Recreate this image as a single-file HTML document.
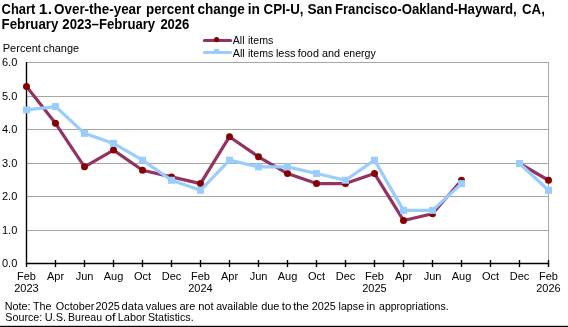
<!DOCTYPE html>
<html><head><meta charset="utf-8"><style>
html,body{margin:0;padding:0;background:#fff;width:568px;height:327px;overflow:hidden}
svg{display:block;font-family:"Liberation Sans",sans-serif;will-change:transform}
</style></head><body>
<svg width="568" height="327" viewBox="0 0 568 327">
<line x1="27" y1="230.5" x2="549" y2="230.5" stroke="#a6a6a6" stroke-width="1"/>
<line x1="27" y1="196.5" x2="549" y2="196.5" stroke="#a6a6a6" stroke-width="1"/>
<line x1="27" y1="163.5" x2="549" y2="163.5" stroke="#a6a6a6" stroke-width="1"/>
<line x1="27" y1="129.5" x2="549" y2="129.5" stroke="#a6a6a6" stroke-width="1"/>
<line x1="27" y1="96.5" x2="549" y2="96.5" stroke="#a6a6a6" stroke-width="1"/>
<line x1="27" y1="62.5" x2="549" y2="62.5" stroke="#a6a6a6" stroke-width="1"/>
<line x1="548.5" y1="62" x2="548.5" y2="263" stroke="#a6a6a6" stroke-width="1"/>
<line x1="26.5" y1="62" x2="26.5" y2="264" stroke="#000" stroke-width="1.4"/>
<line x1="26" y1="263.5" x2="549.2" y2="263.5" stroke="#000" stroke-width="1.4"/>
<line x1="55.5" y1="260" x2="55.5" y2="267" stroke="#000" stroke-width="1.4"/>
<line x1="84.5" y1="260" x2="84.5" y2="267" stroke="#000" stroke-width="1.4"/>
<line x1="113.5" y1="260" x2="113.5" y2="267" stroke="#000" stroke-width="1.4"/>
<line x1="142.5" y1="260" x2="142.5" y2="267" stroke="#000" stroke-width="1.4"/>
<line x1="171.5" y1="260" x2="171.5" y2="267" stroke="#000" stroke-width="1.4"/>
<line x1="200.5" y1="260" x2="200.5" y2="267" stroke="#000" stroke-width="1.4"/>
<line x1="229.5" y1="260" x2="229.5" y2="267" stroke="#000" stroke-width="1.4"/>
<line x1="258.5" y1="260" x2="258.5" y2="267" stroke="#000" stroke-width="1.4"/>
<line x1="287.5" y1="260" x2="287.5" y2="267" stroke="#000" stroke-width="1.4"/>
<line x1="316.5" y1="260" x2="316.5" y2="267" stroke="#000" stroke-width="1.4"/>
<line x1="345.5" y1="260" x2="345.5" y2="267" stroke="#000" stroke-width="1.4"/>
<line x1="374.5" y1="260" x2="374.5" y2="267" stroke="#000" stroke-width="1.4"/>
<line x1="403.5" y1="260" x2="403.5" y2="267" stroke="#000" stroke-width="1.4"/>
<line x1="432.5" y1="260" x2="432.5" y2="267" stroke="#000" stroke-width="1.4"/>
<line x1="461.5" y1="260" x2="461.5" y2="267" stroke="#000" stroke-width="1.4"/>
<line x1="490.5" y1="260" x2="490.5" y2="267" stroke="#000" stroke-width="1.4"/>
<line x1="519.5" y1="260" x2="519.5" y2="267" stroke="#000" stroke-width="1.4"/>
<line x1="548.5" y1="260" x2="548.5" y2="267" stroke="#000" stroke-width="1.4"/>
<line x1="26.5" y1="263" x2="26.5" y2="267" stroke="#000" stroke-width="1.4"/>
<polyline points="26.5,86.45 55.5,123.30 84.5,166.85 113.5,150.10 142.5,170.20 171.5,176.90 200.5,183.60 229.5,136.70 258.5,156.80 287.5,173.55 316.5,183.60 345.5,183.60 374.5,173.55 403.5,220.45 432.5,213.75 461.5,180.25" fill="none" stroke="#923364" stroke-width="3.2" stroke-linejoin="round"/>
<polyline points="519.5,163.50 548.5,180.25" fill="none" stroke="#923364" stroke-width="3.2" stroke-linejoin="round"/>
<circle cx="26.5" cy="86.45" r="3.5" fill="#850000"/>
<circle cx="55.5" cy="123.30" r="3.5" fill="#850000"/>
<circle cx="84.5" cy="166.85" r="3.5" fill="#850000"/>
<circle cx="113.5" cy="150.10" r="3.5" fill="#850000"/>
<circle cx="142.5" cy="170.20" r="3.5" fill="#850000"/>
<circle cx="171.5" cy="176.90" r="3.5" fill="#850000"/>
<circle cx="200.5" cy="183.60" r="3.5" fill="#850000"/>
<circle cx="229.5" cy="136.70" r="3.5" fill="#850000"/>
<circle cx="258.5" cy="156.80" r="3.5" fill="#850000"/>
<circle cx="287.5" cy="173.55" r="3.5" fill="#850000"/>
<circle cx="316.5" cy="183.60" r="3.5" fill="#850000"/>
<circle cx="345.5" cy="183.60" r="3.5" fill="#850000"/>
<circle cx="374.5" cy="173.55" r="3.5" fill="#850000"/>
<circle cx="403.5" cy="220.45" r="3.5" fill="#850000"/>
<circle cx="432.5" cy="213.75" r="3.5" fill="#850000"/>
<circle cx="461.5" cy="180.25" r="3.5" fill="#850000"/>
<circle cx="519.5" cy="163.50" r="3.5" fill="#850000"/>
<circle cx="548.5" cy="180.25" r="3.5" fill="#850000"/>
<polyline points="26.5,109.90 55.5,106.55 84.5,133.35 113.5,143.40 142.5,160.15 171.5,180.25 200.5,190.30 229.5,160.15 258.5,166.85 287.5,166.85 316.5,173.55 345.5,180.25 374.5,160.15 403.5,210.40 432.5,210.40 461.5,183.60" fill="none" stroke="#99ccff" stroke-width="3.2" stroke-linejoin="round"/>
<polyline points="519.5,163.50 548.5,190.30" fill="none" stroke="#99ccff" stroke-width="3.2" stroke-linejoin="round"/>
<rect x="23.0" y="106.40" width="7" height="7" fill="#99ccff"/>
<rect x="52.0" y="103.05" width="7" height="7" fill="#99ccff"/>
<rect x="81.0" y="129.85" width="7" height="7" fill="#99ccff"/>
<rect x="110.0" y="139.90" width="7" height="7" fill="#99ccff"/>
<rect x="139.0" y="156.65" width="7" height="7" fill="#99ccff"/>
<rect x="168.0" y="176.75" width="7" height="7" fill="#99ccff"/>
<rect x="197.0" y="186.80" width="7" height="7" fill="#99ccff"/>
<rect x="226.0" y="156.65" width="7" height="7" fill="#99ccff"/>
<rect x="255.0" y="163.35" width="7" height="7" fill="#99ccff"/>
<rect x="284.0" y="163.35" width="7" height="7" fill="#99ccff"/>
<rect x="313.0" y="170.05" width="7" height="7" fill="#99ccff"/>
<rect x="342.0" y="176.75" width="7" height="7" fill="#99ccff"/>
<rect x="371.0" y="156.65" width="7" height="7" fill="#99ccff"/>
<rect x="400.0" y="206.90" width="7" height="7" fill="#99ccff"/>
<rect x="429.0" y="206.90" width="7" height="7" fill="#99ccff"/>
<rect x="458.0" y="180.10" width="7" height="7" fill="#99ccff"/>
<rect x="516.0" y="160.00" width="7" height="7" fill="#99ccff"/>
<rect x="545.0" y="186.80" width="7" height="7" fill="#99ccff"/>
<line x1="204.4" y1="40.5" x2="230.6" y2="40.5" stroke="#923364" stroke-width="3" stroke-linecap="round"/>
<circle cx="216.6" cy="39.6" r="2.6" fill="#850000"/>
<line x1="204.4" y1="52.5" x2="230.6" y2="52.5" stroke="#99ccff" stroke-width="3" stroke-linecap="round"/>
<rect x="214" y="49" width="5" height="4" fill="#99ccff"/>
<rect x="0" y="325.8" width="568" height="1.2" fill="#000"/>
<g fill="#000">
<text x="1.55" y="14" font-size="14" font-weight="bold" textLength="33.76" lengthAdjust="spacingAndGlyphs">Chart</text>
<text x="38.86" y="14" font-size="14" font-weight="bold" textLength="13.27" lengthAdjust="spacingAndGlyphs">1.</text>
<text x="54.01" y="14" font-size="14" font-weight="bold" textLength="87.32" lengthAdjust="spacingAndGlyphs">Over-the-year</text>
<text x="145.97" y="14" font-size="14" font-weight="bold" textLength="48.42" lengthAdjust="spacingAndGlyphs">percent</text>
<text x="197.56" y="14" font-size="14" font-weight="bold" textLength="47.31" lengthAdjust="spacingAndGlyphs">change</text>
<text x="247.78" y="14" font-size="14" font-weight="bold" textLength="12.22" lengthAdjust="spacingAndGlyphs">in</text>
<text x="263.61" y="14" font-size="14" font-weight="bold" textLength="39.94" lengthAdjust="spacingAndGlyphs">CPI-U,</text>
<text x="307.44" y="14" font-size="14" font-weight="bold" textLength="25.00" lengthAdjust="spacingAndGlyphs">San</text>
<text x="334.93" y="14" font-size="14" font-weight="bold" textLength="181.82" lengthAdjust="spacingAndGlyphs">Francisco-Oakland-Hayward,</text>
<text x="522.08" y="14" font-size="14" font-weight="bold" textLength="22.75" lengthAdjust="spacingAndGlyphs">CA,</text>
<text x="1.54" y="28.8" font-size="14" font-weight="bold" textLength="56.89" lengthAdjust="spacingAndGlyphs">February</text>
<text x="62.32" y="28.8" font-size="14" font-weight="bold" textLength="92.86" lengthAdjust="spacingAndGlyphs">2023–February</text>
<text x="160.38" y="28.8" font-size="14" font-weight="bold" textLength="29.00" lengthAdjust="spacingAndGlyphs">2026</text>
<text x="2.74" y="51.6" font-size="11" textLength="38.16" lengthAdjust="spacingAndGlyphs">Percent</text>
<text x="43.22" y="51.6" font-size="11" textLength="35.88" lengthAdjust="spacingAndGlyphs">change</text>
<text x="2" y="266.5" font-size="11">0.0</text>
<text x="2" y="233.5" font-size="11">1.0</text>
<text x="2" y="199.5" font-size="11">2.0</text>
<text x="2" y="166.5" font-size="11">3.0</text>
<text x="2" y="132.5" font-size="11">4.0</text>
<text x="2" y="99.5" font-size="11">5.0</text>
<text x="2" y="65.5" font-size="11">6.0</text>
<text x="26.50" y="279.8" font-size="11" text-anchor="middle">Feb</text>
<text x="55.50" y="279.8" font-size="11" text-anchor="middle">Apr</text>
<text x="84.50" y="279.8" font-size="11" text-anchor="middle">Jun</text>
<text x="113.50" y="279.8" font-size="11" text-anchor="middle">Aug</text>
<text x="142.50" y="279.8" font-size="11" text-anchor="middle">Oct</text>
<text x="171.50" y="279.8" font-size="11" text-anchor="middle">Dec</text>
<text x="200.50" y="279.8" font-size="11" text-anchor="middle">Feb</text>
<text x="229.50" y="279.8" font-size="11" text-anchor="middle">Apr</text>
<text x="258.50" y="279.8" font-size="11" text-anchor="middle">Jun</text>
<text x="287.50" y="279.8" font-size="11" text-anchor="middle">Aug</text>
<text x="316.50" y="279.8" font-size="11" text-anchor="middle">Oct</text>
<text x="345.50" y="279.8" font-size="11" text-anchor="middle">Dec</text>
<text x="374.50" y="279.8" font-size="11" text-anchor="middle">Feb</text>
<text x="403.50" y="279.8" font-size="11" text-anchor="middle">Apr</text>
<text x="432.50" y="279.8" font-size="11" text-anchor="middle">Jun</text>
<text x="461.50" y="279.8" font-size="11" text-anchor="middle">Aug</text>
<text x="490.50" y="279.8" font-size="11" text-anchor="middle">Oct</text>
<text x="519.50" y="279.8" font-size="11" text-anchor="middle">Dec</text>
<text x="548.50" y="279.8" font-size="11" text-anchor="middle">Feb</text>
<text x="26.50" y="291.7" font-size="11" text-anchor="middle">2023</text>
<text x="200.50" y="291.7" font-size="11" text-anchor="middle">2024</text>
<text x="374.50" y="291.7" font-size="11" text-anchor="middle">2025</text>
<text x="548.50" y="291.7" font-size="11" text-anchor="middle">2026</text>
<text x="232.82" y="43.5" font-size="11" textLength="11.73" lengthAdjust="spacingAndGlyphs">All</text>
<text x="248.00" y="43.5" font-size="11" textLength="25.31" lengthAdjust="spacingAndGlyphs">items</text>
<text x="232.63" y="56.6" font-size="11" textLength="12.09" lengthAdjust="spacingAndGlyphs">All</text>
<text x="248.02" y="56.6" font-size="11" textLength="25.21" lengthAdjust="spacingAndGlyphs">items</text>
<text x="275.88" y="56.6" font-size="11" textLength="19.52" lengthAdjust="spacingAndGlyphs">less</text>
<text x="297.87" y="56.6" font-size="11" textLength="21.05" lengthAdjust="spacingAndGlyphs">food</text>
<text x="321.90" y="56.6" font-size="11" textLength="18.11" lengthAdjust="spacingAndGlyphs">and</text>
<text x="343.43" y="56.6" font-size="11" textLength="32.34" lengthAdjust="spacingAndGlyphs">energy</text>
<text x="4.77" y="309.8" font-size="11" textLength="25.86" lengthAdjust="spacingAndGlyphs">Note:</text>
<text x="32.99" y="309.8" font-size="11" textLength="18.57" lengthAdjust="spacingAndGlyphs">The</text>
<text x="55.80" y="309.8" font-size="11" textLength="38.66" lengthAdjust="spacingAndGlyphs">October</text>
<text x="95.55" y="309.8" font-size="11" textLength="24.24" lengthAdjust="spacingAndGlyphs">2025</text>
<text x="121.60" y="309.8" font-size="11" textLength="21.77" lengthAdjust="spacingAndGlyphs">data</text>
<text x="145.74" y="309.8" font-size="11" textLength="31.19" lengthAdjust="spacingAndGlyphs">values</text>
<text x="179.41" y="309.8" font-size="11" textLength="15.95" lengthAdjust="spacingAndGlyphs">are</text>
<text x="198.21" y="309.8" font-size="11" textLength="15.42" lengthAdjust="spacingAndGlyphs">not</text>
<text x="216.20" y="309.8" font-size="11" textLength="41.72" lengthAdjust="spacingAndGlyphs">available</text>
<text x="261.16" y="309.8" font-size="11" textLength="18.29" lengthAdjust="spacingAndGlyphs">due</text>
<text x="281.89" y="309.8" font-size="11" textLength="9.61" lengthAdjust="spacingAndGlyphs">to</text>
<text x="293.19" y="309.8" font-size="11" textLength="15.68" lengthAdjust="spacingAndGlyphs">the</text>
<text x="311.75" y="309.8" font-size="11" textLength="24.15" lengthAdjust="spacingAndGlyphs">2025</text>
<text x="338.56" y="309.8" font-size="11" textLength="25.56" lengthAdjust="spacingAndGlyphs">lapse</text>
<text x="366.51" y="309.8" font-size="11" textLength="8.78" lengthAdjust="spacingAndGlyphs">in</text>
<text x="379.06" y="309.8" font-size="11" textLength="69.57" lengthAdjust="spacingAndGlyphs">appropriations.</text>
<text x="5.25" y="321.4" font-size="11" textLength="37.06" lengthAdjust="spacingAndGlyphs">Source:</text>
<text x="44.67" y="321.4" font-size="11" textLength="21.42" lengthAdjust="spacingAndGlyphs">U.S.</text>
<text x="68.01" y="321.4" font-size="11" textLength="34.14" lengthAdjust="spacingAndGlyphs">Bureau</text>
<text x="104.99" y="321.4" font-size="11" textLength="10.72" lengthAdjust="spacingAndGlyphs">of</text>
<text x="117.78" y="321.4" font-size="11" textLength="28.00" lengthAdjust="spacingAndGlyphs">Labor</text>
<text x="147.88" y="321.4" font-size="11" textLength="45.79" lengthAdjust="spacingAndGlyphs">Statistics.</text>
</g>
</svg>
</body></html>
